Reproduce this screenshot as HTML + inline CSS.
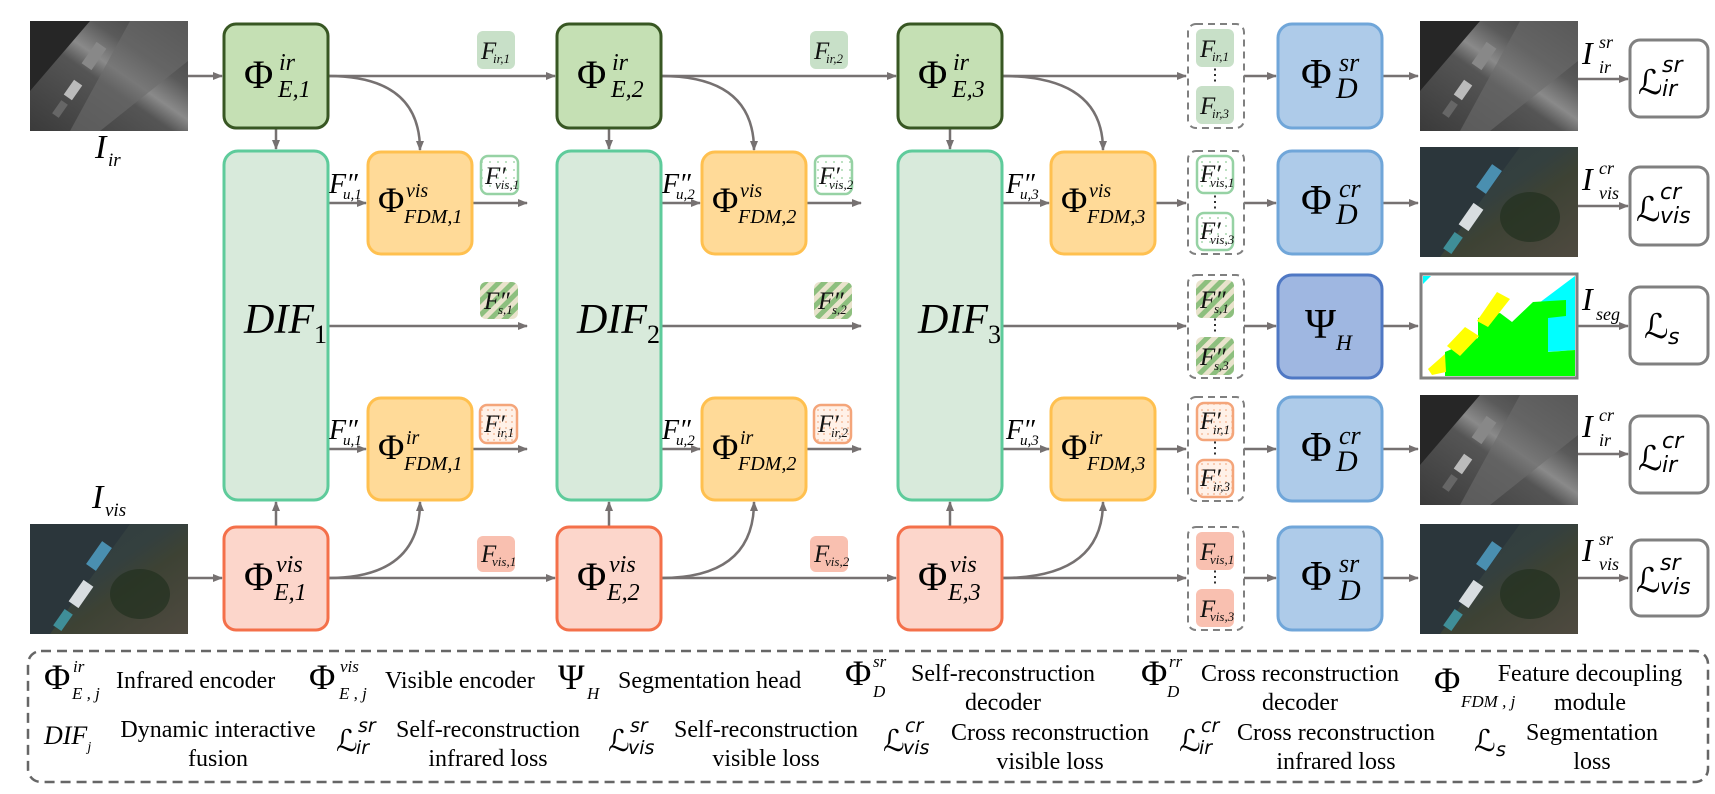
<!DOCTYPE html>
<html><head><meta charset="utf-8"></head><body style="margin:0;padding:0;background:#fff;">
<svg width="1715" height="794" viewBox="0 0 1715 794" xmlns="http://www.w3.org/2000/svg" style="display:block;font-family:'Liberation Serif','DejaVu Serif',serif" font-family="'Liberation Serif', 'DejaVu Serif', serif">
<defs>
<marker id="ar" markerWidth="10" markerHeight="8" refX="9" refY="4" orient="auto" markerUnits="userSpaceOnUse"><path d="M0,0 L10,4 L0,8 z" fill="#767171"/></marker>
<pattern id="dg" width="8" height="8" patternUnits="userSpaceOnUse"><rect width="8" height="8" fill="#fff"/><circle cx="2" cy="2" r="1" fill="#a9d8b0"/></pattern>
<pattern id="do" width="6" height="6" patternUnits="userSpaceOnUse"><rect width="6" height="6" fill="#fff1e8"/><circle cx="2" cy="2" r="0.9" fill="#f4b08a"/></pattern>
<pattern id="st" width="10" height="10" patternUnits="userSpaceOnUse" patternTransform="rotate(45)"><rect width="10" height="10" fill="#e9e3cc"/><rect width="5" height="10" fill="#8dbf7e"/></pattern>
<linearGradient id="irg" x1="0" y1="1" x2="1" y2="0"><stop offset="0" stop-color="#3a3a3a"/><stop offset="0.45" stop-color="#555"/><stop offset="0.55" stop-color="#8a8a8a"/><stop offset="0.7" stop-color="#5a5a5a"/><stop offset="1" stop-color="#3c3c3c"/></linearGradient>
<linearGradient id="vg" x1="0" y1="0" x2="1" y2="1"><stop offset="0" stop-color="#2f3b40"/><stop offset="0.45" stop-color="#34403f"/><stop offset="0.6" stop-color="#3d4234"/><stop offset="1" stop-color="#4f4a40"/></linearGradient>
<g id="irimg"><rect width="158" height="110" fill="url(#irg)"/><polygon points="0,0 60,0 0,70" fill="#262626"/><polygon points="100,0 158,0 158,40 70,110 40,110" fill="#6d6d6d" opacity="0.6"/><rect x="58" y="22" width="12" height="26" fill="#888" transform="rotate(35 64 35)"/><rect x="38" y="60" width="10" height="18" fill="#bbb" transform="rotate(35 43 69)"/><rect x="26" y="80" width="8" height="16" fill="#666" transform="rotate(35 30 88)"/></g>
<g id="visimg"><rect width="158" height="110" fill="url(#vg)"/><polygon points="0,0 100,0 20,110 0,110" fill="#2b363b"/><ellipse cx="110" cy="70" rx="30" ry="25" fill="#223020" opacity="0.7"/><rect x="63" y="18" width="12" height="28" fill="#4a8fb0" transform="rotate(35 69 32)"/><rect x="45" y="57" width="12" height="26" fill="#d8dde0" transform="rotate(35 51 70)"/><rect x="28" y="86" width="10" height="20" fill="#3f8e98" transform="rotate(35 33 96)"/></g>
</defs>

<g fill="none" stroke="#767171" stroke-width="2.5">
<line x1="188" y1="76" x2="222" y2="76" marker-end="url(#ar)"/>
<line x1="328" y1="76" x2="555" y2="76" marker-end="url(#ar)"/>
<line x1="661" y1="76" x2="896" y2="76" marker-end="url(#ar)"/>
<line x1="1002" y1="76" x2="1186" y2="76" marker-end="url(#ar)"/>
<line x1="188" y1="578" x2="222" y2="578" marker-end="url(#ar)"/>
<line x1="328" y1="578" x2="555" y2="578" marker-end="url(#ar)"/>
<line x1="661" y1="578" x2="896" y2="578" marker-end="url(#ar)"/>
<line x1="1002" y1="578" x2="1186" y2="578" marker-end="url(#ar)"/>
<path d="M328,76 Q420,76 420,150" marker-end="url(#ar)"/>
<path d="M661,76 Q754,76 754,150" marker-end="url(#ar)"/>
<path d="M1002,76 Q1103,76 1103,150" marker-end="url(#ar)"/>
<path d="M328,578 Q420,578 420,502" marker-end="url(#ar)"/>
<path d="M661,578 Q754,578 754,502" marker-end="url(#ar)"/>
<path d="M1002,578 Q1103,578 1103,502" marker-end="url(#ar)"/>
<line x1="276" y1="128" x2="276" y2="149" marker-end="url(#ar)"/>
<line x1="609" y1="128" x2="609" y2="149" marker-end="url(#ar)"/>
<line x1="950" y1="128" x2="950" y2="149" marker-end="url(#ar)"/>
<line x1="276" y1="527" x2="276" y2="502" marker-end="url(#ar)"/>
<line x1="609" y1="527" x2="609" y2="502" marker-end="url(#ar)"/>
<line x1="950" y1="527" x2="950" y2="502" marker-end="url(#ar)"/>
<line x1="328" y1="203" x2="366" y2="203" marker-end="url(#ar)"/>
<line x1="661" y1="203" x2="700" y2="203" marker-end="url(#ar)"/>
<line x1="1002" y1="203" x2="1049" y2="203" marker-end="url(#ar)"/>
<line x1="328" y1="449" x2="366" y2="449" marker-end="url(#ar)"/>
<line x1="661" y1="449" x2="700" y2="449" marker-end="url(#ar)"/>
<line x1="1002" y1="449" x2="1049" y2="449" marker-end="url(#ar)"/>
<line x1="472" y1="203" x2="527" y2="203" marker-end="url(#ar)"/>
<line x1="806" y1="203" x2="861" y2="203" marker-end="url(#ar)"/>
<line x1="1154" y1="203" x2="1186" y2="203" marker-end="url(#ar)"/>
<line x1="472" y1="449" x2="527" y2="449" marker-end="url(#ar)"/>
<line x1="806" y1="449" x2="861" y2="449" marker-end="url(#ar)"/>
<line x1="1154" y1="449" x2="1186" y2="449" marker-end="url(#ar)"/>
<line x1="328" y1="326" x2="527" y2="326" marker-end="url(#ar)"/>
<line x1="661" y1="326" x2="861" y2="326" marker-end="url(#ar)"/>
<line x1="1002" y1="326" x2="1186" y2="326" marker-end="url(#ar)"/>
<line x1="1244" y1="76" x2="1276" y2="76" marker-end="url(#ar)"/>
<line x1="1244" y1="203" x2="1276" y2="203" marker-end="url(#ar)"/>
<line x1="1244" y1="326" x2="1276" y2="326" marker-end="url(#ar)"/>
<line x1="1244" y1="449" x2="1276" y2="449" marker-end="url(#ar)"/>
<line x1="1244" y1="578" x2="1276" y2="578" marker-end="url(#ar)"/>
<line x1="1382" y1="76" x2="1418" y2="76" marker-end="url(#ar)"/>
<line x1="1382" y1="203" x2="1418" y2="203" marker-end="url(#ar)"/>
<line x1="1382" y1="326" x2="1418" y2="326" marker-end="url(#ar)"/>
<line x1="1382" y1="449" x2="1418" y2="449" marker-end="url(#ar)"/>
<line x1="1382" y1="578" x2="1418" y2="578" marker-end="url(#ar)"/>
<line x1="1578" y1="79" x2="1628" y2="79" marker-end="url(#ar)"/>
<line x1="1578" y1="206" x2="1628" y2="206" marker-end="url(#ar)"/>
<line x1="1578" y1="326" x2="1628" y2="326" marker-end="url(#ar)"/>
<line x1="1578" y1="454" x2="1628" y2="454" marker-end="url(#ar)"/>
<line x1="1578" y1="578" x2="1628" y2="578" marker-end="url(#ar)"/>
</g>

<use href="#irimg" x="30" y="21"/>
<use href="#visimg" x="30" y="524"/>
<use href="#irimg" x="1420" y="21"/>
<use href="#visimg" x="1420" y="147"/>
<use href="#irimg" x="1420" y="395"/>
<use href="#visimg" x="1420" y="524"/>
<g>
<rect x="1421" y="274" width="156" height="104" fill="#fff" stroke="#7f7f7f" stroke-width="3"/>
<polygon points="1423,276 1431,276 1423,284" fill="#00ffff"/>
<polygon points="1535,306 1575,276 1575,350 1545,352 1548,318" fill="#00ffff"/>
<polygon points="1478,318 1500,313 1512,322 1533,302 1566,300 1566,316 1548,318 1548,352 1575,350 1575,376 1445,376 1445,352 1478,338" fill="#00ff00"/>
<polygon points="1477,321 1497,292 1510,299 1488,327" fill="#ffff00"/>
<polygon points="1447,346 1465,327 1479,336 1460,356" fill="#ffff00"/>
<polygon points="1428,369 1445,354 1446,372 1432,375" fill="#ffff00"/>
</g>

<g stroke="#385723" stroke-width="3" fill="#c5e0b4">
<rect x="224" y="24" width="104" height="104" rx="12"/>
<rect x="557" y="24" width="104" height="104" rx="12"/>
<rect x="898" y="24" width="104" height="104" rx="12"/>
</g>
<g stroke="#5ecb9b" stroke-width="3" fill="#d8eadb">
<rect x="224" y="151" width="104" height="349" rx="14"/>
<rect x="557" y="151" width="104" height="349" rx="14"/>
<rect x="898" y="151" width="104" height="349" rx="14"/>
</g>
<g stroke="#ffc04f" stroke-width="3" fill="#ffda98">
<rect x="368" y="152" width="104" height="102" rx="13"/>
<rect x="702" y="152" width="104" height="102" rx="13"/>
<rect x="1051" y="152" width="104" height="102" rx="13"/>
<rect x="368" y="398" width="104" height="102" rx="13"/>
<rect x="702" y="398" width="104" height="102" rx="13"/>
<rect x="1051" y="398" width="104" height="102" rx="13"/>
</g>
<g stroke="#f4704a" stroke-width="3" fill="#fcd6cb">
<rect x="224" y="527" width="104" height="103" rx="12"/>
<rect x="557" y="527" width="104" height="103" rx="12"/>
<rect x="898" y="527" width="104" height="103" rx="12"/>
</g>
<g stroke="#70a6d9" stroke-width="3" fill="#aecbe9">
<rect x="1278" y="24" width="104" height="104" rx="14"/>
<rect x="1278" y="151" width="104" height="103" rx="14"/>
<rect x="1278" y="397" width="104" height="104" rx="14"/>
<rect x="1278" y="527" width="104" height="103" rx="14"/>
</g>
<rect x="1278" y="275" width="104" height="103" rx="14" fill="#9fb7e1" stroke="#4f78c4" stroke-width="3"/>
<g stroke="#808080" stroke-width="3" fill="#fff">
<rect x="1630" y="40" width="78" height="77" rx="10"/>
<rect x="1630" y="167" width="78" height="78" rx="10"/>
<rect x="1630" y="287" width="78" height="77" rx="10"/>
<rect x="1630" y="416" width="78" height="77" rx="10"/>
<rect x="1631" y="540" width="77" height="76" rx="10"/>
</g>
<g stroke="#808080" stroke-width="2" fill="#fff" stroke-dasharray="7 5">
<rect x="1188" y="24" width="56" height="104" rx="8"/>
<rect x="1188" y="151" width="56" height="103" rx="8"/>
<rect x="1188" y="275" width="56" height="103" rx="8"/>
<rect x="1188" y="397" width="56" height="104" rx="8"/>
<rect x="1188" y="527" width="56" height="103" rx="8"/>
</g>
<g>
<rect x="477" y="31" width="38" height="38" rx="6" fill="#c8e0c8"/>
<rect x="810" y="31" width="38" height="38" rx="6" fill="#c8e0c8"/>
<rect x="477" y="536" width="38" height="36" rx="6" fill="#f9c0b0"/>
<rect x="810" y="536" width="38" height="36" rx="6" fill="#f9c0b0"/>
<rect x="481" y="156" width="37" height="38" rx="7" fill="url(#dg)" stroke="#96d2a4" stroke-width="2.5"/>
<rect x="815" y="156" width="37" height="38" rx="7" fill="url(#dg)" stroke="#96d2a4" stroke-width="2.5"/>
<rect x="480" y="282" width="38" height="37" rx="6" fill="url(#st)"/>
<rect x="814" y="282" width="38" height="37" rx="6" fill="url(#st)"/>
<rect x="480" y="405" width="37" height="38" rx="7" fill="url(#do)" stroke="#f4a57a" stroke-width="2.5"/>
<rect x="814" y="405" width="37" height="38" rx="7" fill="url(#do)" stroke="#f4a57a" stroke-width="2.5"/>
<rect x="1196" y="29" width="38" height="38" rx="6" fill="#c8e0c8"/>
<rect x="1196" y="86" width="38" height="38" rx="6" fill="#c8e0c8"/>
<rect x="1197" y="156" width="36" height="37" rx="7" fill="url(#dg)" stroke="#96d2a4" stroke-width="2.5"/>
<rect x="1197" y="213" width="36" height="37" rx="7" fill="url(#dg)" stroke="#96d2a4" stroke-width="2.5"/>
<rect x="1196" y="280" width="38" height="38" rx="6" fill="url(#st)"/>
<rect x="1196" y="337" width="38" height="38" rx="6" fill="url(#st)"/>
<rect x="1197" y="403" width="36" height="37" rx="7" fill="url(#do)" stroke="#f4a57a" stroke-width="2.5"/>
<rect x="1197" y="460" width="36" height="37" rx="7" fill="url(#do)" stroke="#f4a57a" stroke-width="2.5"/>
<rect x="1196" y="532" width="38" height="38" rx="6" fill="#f9c0b0"/>
<rect x="1196" y="589" width="38" height="38" rx="6" fill="#f9c0b0"/>
</g>
<g font-size="16" fill="#000" text-anchor="middle">
<text x="1215" y="80">⋮</text><text x="1215" y="207">⋮</text><text x="1215" y="330">⋮</text><text x="1215" y="453">⋮</text><text x="1215" y="582">⋮</text>
</g>

<g font-style="italic" fill="#111">
<g font-size="25">
<text x="481" y="59">F</text><text x="814" y="59">F</text>
<text x="481" y="562">F</text><text x="814" y="562">F</text>
<text x="485" y="184">F′</text><text x="819" y="184">F′</text>
<text x="484" y="309">F″</text><text x="818" y="309">F″</text>
<text x="484" y="432">F′</text><text x="818" y="432">F′</text>
<text x="1200" y="57">F</text><text x="1200" y="114">F</text>
<text x="1200" y="182">F′</text><text x="1200" y="239">F′</text>
<text x="1200" y="308">F″</text><text x="1200" y="365">F″</text>
<text x="1200" y="429">F′</text><text x="1200" y="486">F′</text>
<text x="1200" y="560">F</text><text x="1200" y="617">F</text>
</g>
<g font-size="13">
<text x="493" y="63">ir,1</text><text x="826" y="63">ir,2</text>
<text x="492" y="566">vis,1</text><text x="825" y="566">vis,2</text>
<text x="495" y="189">vis,1</text><text x="829" y="189">vis,2</text>
<text x="498" y="314">s,1</text><text x="832" y="314">s,2</text>
<text x="497" y="437">ir,1</text><text x="831" y="437">ir,2</text>
<text x="1212" y="61">ir,1</text><text x="1212" y="118">ir,3</text>
<text x="1210" y="187">vis,1</text><text x="1210" y="244">vis,3</text>
<text x="1214" y="313">s,1</text><text x="1214" y="370">s,3</text>
<text x="1213" y="434">ir,1</text><text x="1213" y="491">ir,3</text>
<text x="1210" y="564">vis,1</text><text x="1210" y="621">vis,3</text>
</g>
</g>

<g fill="#000">
<g font-size="40">
<text x="244" y="88">Φ</text><text x="577" y="88">Φ</text><text x="918" y="88">Φ</text>
<text x="244" y="590">Φ</text><text x="577" y="590">Φ</text><text x="918" y="590">Φ</text>
</g>
<g font-style="italic" font-size="24">
<text x="279" y="70">ir</text><text x="612" y="70">ir</text><text x="953" y="70">ir</text>
<text x="278" y="97">E<tspan>,1</tspan></text><text x="611" y="97">E,2</text><text x="952" y="97">E,3</text>
<text x="276" y="572">vis</text><text x="609" y="572">vis</text><text x="950" y="572">vis</text>
<text x="274" y="600">E,1</text><text x="607" y="600">E,2</text><text x="948" y="600">E,3</text>
</g>
<g font-size="36">
<text x="378" y="212">Φ</text><text x="712" y="212">Φ</text><text x="1061" y="212">Φ</text>
<text x="378" y="459">Φ</text><text x="712" y="459">Φ</text><text x="1061" y="459">Φ</text>
</g>
<g font-style="italic" font-size="20">
<text x="406" y="197">vis</text><text x="740" y="197">vis</text><text x="1089" y="197">vis</text>
<text x="406" y="444">ir</text><text x="740" y="444">ir</text><text x="1089" y="444">ir</text>
<text x="404" y="223">FDM,1</text><text x="738" y="223">FDM,2</text><text x="1087" y="223">FDM,3</text>
<text x="404" y="470">FDM,1</text><text x="738" y="470">FDM,2</text><text x="1087" y="470">FDM,3</text>
</g>
<g font-style="italic" font-size="42">
<text x="244" y="333">DIF<tspan font-style="normal" font-size="26" dy="10">1</tspan></text>
<text x="577" y="333">DIF<tspan font-style="normal" font-size="26" dy="10">2</tspan></text>
<text x="918" y="333">DIF<tspan font-style="normal" font-size="26" dy="10">3</tspan></text>
</g>
<g font-style="italic" font-size="28">
<text x="329" y="193">F″</text><text x="662" y="193">F″</text><text x="1006" y="193">F″</text>
<text x="329" y="439">F″</text><text x="662" y="439">F″</text><text x="1006" y="439">F″</text>
</g>
<g font-style="italic" font-size="15">
<text x="343" y="199">u,1</text><text x="676" y="199">u,2</text><text x="1020" y="199">u,3</text>
<text x="343" y="445">u,1</text><text x="676" y="445">u,2</text><text x="1020" y="445">u,3</text>
</g>
<g font-size="42">
<text x="1301" y="88">Φ</text><text x="1301" y="214">Φ</text><text x="1301" y="461">Φ</text><text x="1301" y="590">Φ</text>
<text x="1305" y="338">Ψ</text>
</g>
<g font-style="italic" font-size="26">
<text x="1339" y="71">sr</text><text x="1339" y="197">cr</text><text x="1339" y="444">cr</text><text x="1339" y="572">sr</text>
</g>
<g font-style="italic" font-size="30">
<text x="1336" y="98">D</text><text x="1336" y="224">D</text><text x="1336" y="471">D</text><text x="1339" y="600">D</text>
<text x="1336" y="350" font-size="22">H</text>
</g>
<g font-style="italic">
<text x="95" y="158" font-size="34">I</text><text x="108" y="166" font-size="19">ir</text>
<text x="92" y="508" font-size="34">I</text><text x="105" y="516" font-size="19">vis</text>
<text x="1582" y="64" font-size="32">I</text><text x="1599" y="48" font-size="18">sr</text><text x="1599" y="73" font-size="18">ir</text>
<text x="1582" y="190" font-size="32">I</text><text x="1599" y="174" font-size="18">cr</text><text x="1599" y="199" font-size="18">vis</text>
<text x="1582" y="310" font-size="32">I</text><text x="1596" y="320" font-size="18">seg</text>
<text x="1582" y="437" font-size="32">I</text><text x="1599" y="421" font-size="18">cr</text><text x="1599" y="446" font-size="18">ir</text>
<text x="1582" y="561" font-size="32">I</text><text x="1599" y="545" font-size="18">sr</text><text x="1599" y="570" font-size="18">vis</text>
</g>
<g font-family="'DejaVu Sans', sans-serif" font-style="oblique">
<text x="1638" y="94" font-size="34">ℒ</text><text x="1662" y="72" font-size="22">sr</text><text x="1662" y="96" font-size="22">ir</text>
<text x="1636" y="221" font-size="34">ℒ</text><text x="1660" y="199" font-size="22">cr</text><text x="1660" y="223" font-size="22">vis</text>
<text x="1644" y="338" font-size="34">ℒ</text><text x="1668" y="344" font-size="22">s</text>
<text x="1638" y="470" font-size="34">ℒ</text><text x="1662" y="448" font-size="22">cr</text><text x="1662" y="472" font-size="22">ir</text>
<text x="1636" y="592" font-size="34">ℒ</text><text x="1660" y="570" font-size="22">sr</text><text x="1660" y="594" font-size="22">vis</text>
</g>
</g>

<rect x="28" y="651" width="1680" height="131" rx="13" fill="none" stroke="#666" stroke-width="2.5" stroke-dasharray="10 6"/>
<g fill="#000">
<g font-size="36">
<text x="44" y="689">Φ</text><text x="309" y="689">Φ</text><text x="845" y="685">Φ</text><text x="1141" y="685">Φ</text><text x="1434" y="692">Φ</text>
<text x="558" y="689">Ψ</text>
</g>
<g font-style="italic" font-size="17">
<text x="73" y="672">ir</text><text x="72" y="699">E , j</text>
<text x="340" y="672">vis</text><text x="339" y="699">E , j</text>
<text x="587" y="699">H</text>
<text x="873" y="667">sr</text><text x="873" y="697">D</text>
<text x="1169" y="667">rr</text><text x="1167" y="697">D</text>
<text x="1461" y="707">FDM , j</text>
<text x="44" y="744" font-size="26">DIF<tspan font-size="14" dy="7">j</tspan></text>
</g>
<g font-family="'DejaVu Sans', sans-serif" font-style="oblique">
<text x="336" y="751" font-size="30">ℒ</text><text x="358" y="732" font-size="19">sr</text><text x="356" y="754" font-size="19">ir</text>
<text x="608" y="751" font-size="30">ℒ</text><text x="630" y="732" font-size="19">sr</text><text x="628" y="754" font-size="19">vis</text>
<text x="883" y="751" font-size="30">ℒ</text><text x="905" y="732" font-size="19">cr</text><text x="903" y="754" font-size="19">vis</text>
<text x="1179" y="751" font-size="30">ℒ</text><text x="1201" y="732" font-size="19">cr</text><text x="1199" y="754" font-size="19">ir</text>
<text x="1474" y="751" font-size="30">ℒ</text><text x="1496" y="756" font-size="19">s</text>
</g>
<g font-size="24">
<text x="116" y="688">Infrared encoder</text>
<text x="385" y="688">Visible encoder</text>
<text x="618" y="688">Segmentation head</text>
<g text-anchor="middle">
<text x="1003" y="681">Self-reconstruction</text><text x="1003" y="710">decoder</text>
<text x="1300" y="681">Cross reconstruction</text><text x="1300" y="710">decoder</text>
<text x="1590" y="681">Feature decoupling</text><text x="1590" y="710">module</text>
<text x="218" y="737">Dynamic interactive</text><text x="218" y="766">fusion</text>
<text x="488" y="737">Self-reconstruction</text><text x="488" y="766">infrared loss</text>
<text x="766" y="737">Self-reconstruction</text><text x="766" y="766">visible loss</text>
<text x="1050" y="740">Cross reconstruction</text><text x="1050" y="769">visible loss</text>
<text x="1336" y="740">Cross reconstruction</text><text x="1336" y="769">infrared loss</text>
<text x="1592" y="740">Segmentation</text><text x="1592" y="769">loss</text>
</g>
</g>
</g>
</svg>
</body></html>
